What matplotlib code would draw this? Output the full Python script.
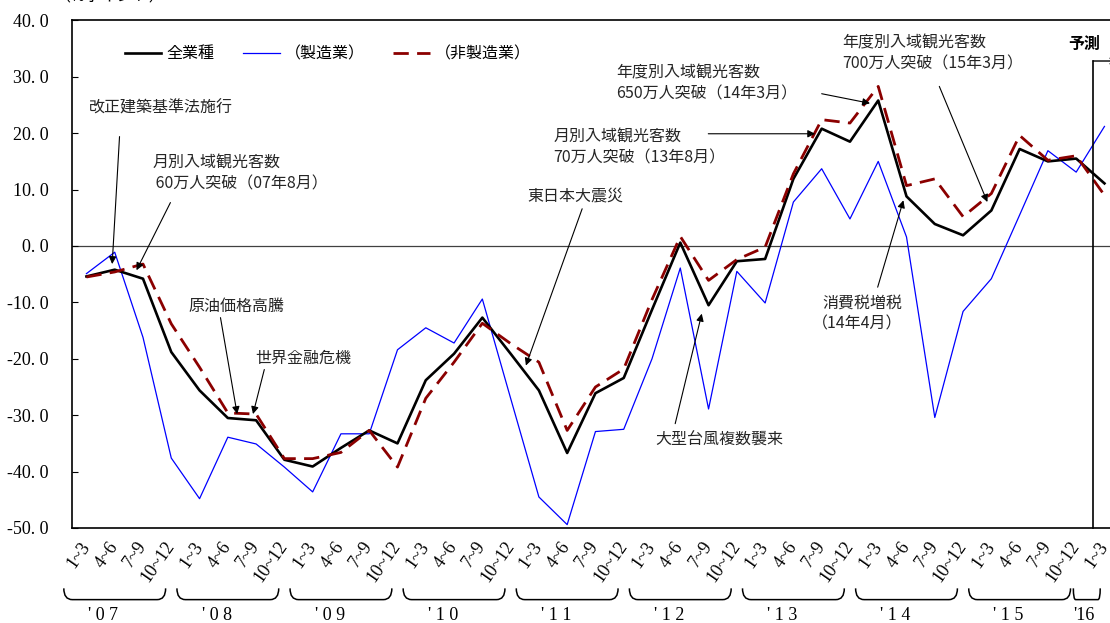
import numpy as np
import matplotlib
matplotlib.use('Agg')
import matplotlib.pyplot as plt
from matplotlib.path import Path
from matplotlib.patches import PathPatch

plt.rcParams['font.family'] = ['Noto Sans CJK JP', 'DejaVu Sans']

# quarterly BSI, '07 1~3 .. '16 1~3
quarters = ['1~3', '4~6', '7~9', '10~12'] * 9 + ['1~3']
years = ["' 0 7", "' 0 8", "' 0 9", "' 1 0", "' 1 1", "' 1 2", "' 1 3", "' 1 4", "' 1 5", "'16"]

all_ind = [-5.4, -4.2, -5.8, -18.8, -25.6, -30.5, -30.9, -37.9, -39.1, -35.8,
           -32.7, -35.0, -23.8, -19.1, -12.7, -19.1, -25.6, -36.7, -26.1, -23.4,
           -11.3, 0.6, -10.5, -2.7, -2.3, 11.9, 20.8, 18.5, 25.8, 8.8,
           3.9, 1.9, 6.3, 17.2, 15.0, 15.5, 11.1]
mfg = [-4.9, -1.1, -16.2, -37.6, -44.8, -33.9, -35.1, -39.2, -43.6, -33.3,
       -33.3, -18.4, -14.5, -17.2, -9.4, -27.0, -44.5, -49.4, -32.9, -32.5,
       -20.0, -3.9, -28.9, -4.5, -10.1, 7.8, 13.7, 4.8, 15.0, 1.6,
       -30.4, -11.6, -5.8, 5.5, 16.9, 13.1, 21.2]
nonmfg = [-5.5, -4.6, -3.2, -13.8, -21.5, -29.6, -29.8, -37.7, -37.7, -36.6,
          -32.7, -39.2, -27.0, -20.6, -13.7, -17.3, -20.6, -32.7, -25.0, -21.8,
          -9.5, 1.7, -6.1, -2.4, -0.2, 12.8, 22.4, 21.8, 28.3, 10.7,
          11.9, 5.2, 9.3, 19.6, 15.2, 16.0, 9.0]

# (text, text pos, ha, arrow tail, arrow head)
notes = [
    ('改正建築基準法施行', (0.07, 24.5), 'left', (1.17, 19.4), (0.91, -3.2)),
    ('月別入域観光客数\n 60万人突破（07年8月）', (2.33, 12.8), 'left', (2.97, 7.7), (1.77, -4.3)),
    ('原油価格高騰', (3.61, -10.7), 'left', (4.74, -12.7), (5.33, -29.8)),
    ('世界金融危機', (5.97, -19.9), 'left', (6.29, -21.9), (5.89, -29.8)),
    ('東日本大震災', (15.59, 8.9), 'left', (17.53, 6.6), (15.54, -21.2)),
    ('大型台風複数襲来', (20.11, -34.5), 'left', (20.82, -31.5), (21.76, -12.0)),
    ('月別入域観光客数\n70万人突破（13年8月）', (16.51, 17.5), 'left', (21.99, 19.9), (25.77, 19.9)),
    ('年度別入域観光客数\n650万人突破（14年3月）', (18.73, 28.8), 'left', (26.0, 27.0), (27.71, 25.3)),
    ('年度別入域観光客数\n700万人突破（15年3月）', (26.72, 34.1), 'left', (30.16, 28.3), (31.86, 7.8)),
    ('消費税増税\n（14年4月）', (28.84, -12.0), 'right', (27.98, -7.3), (28.89, 8.1)),
]

fig = plt.figure(figsize=(11.1, 6.23), dpi=100)
ax = fig.add_axes([72.3 / 1110, 95 / 623, 1046.3 / 1110, 507.6 / 623])

x = np.arange(len(all_ind))
l_mfg, = ax.plot(x, mfg, color='#0000ff', lw=0.9)
l_all, = ax.plot(x, all_ind, color='black', lw=1.9)
l_non, = ax.plot(x, nonmfg, color='#8b0000', lw=2.0, dashes=(5.5, 3))
ax.axhline(0, color='#404040', lw=0.9, zorder=1)

ax.set_xlim(-0.5, 36.5)
ax.set_ylim(-50, 40)
yt = np.arange(-50, 41, 10)
ax.set_yticks(yt)
ax.set_yticklabels([f'{v:.1f}'.replace('.', '. ') for v in yt],
                   fontfamily='Liberation Serif', fontsize=13)
ax.tick_params(axis='y', direction='in', length=4, width=0.8, pad=17)
ax.set_xticks(x)
ax.set_xticklabels(quarters, rotation=55, ha='right', va='center',
                   rotation_mode='anchor', fontfamily='Liberation Serif', fontsize=13)
ax.tick_params(axis='x', length=0, pad=11)
for s in ax.spines.values():
    s.set_linewidth(1.2)

leg = ax.legend([l_all, l_mfg, l_non], ['全業種', '（製造業）', '（非製造業）'],
                loc='center left', bbox_to_anchor=(0.05, 0.934), ncol=3,
                frameon=False, fontsize=11.5, handlelength=2.3,
                handletextpad=0.3, columnspacing=1.8, borderaxespad=0, borderpad=0)

for txt, pos, ha, tail, head in notes:
    ax.text(pos[0], pos[1], txt, ha=ha, va='center', multialignment=ha,
            fontsize=11.5, color='#262626', linespacing=1.3)
    ax.annotate('', xy=head, xytext=tail,
                arrowprops=dict(arrowstyle='-|>', color='black', lw=0.8,
                                mutation_scale=11, shrinkA=0, shrinkB=0))

# forecast marker
ax.plot([35.6, 35.6], [-50, 32.8], color='black', lw=1.2, clip_on=False)
ax.annotate('', xy=(36.45, 32.8), xytext=(35.6, 32.8), annotation_clip=False,
            arrowprops=dict(arrowstyle='->', color='black', lw=1.0, shrinkA=0, shrinkB=0))
ax.text(35.3, 35.9, '予測', ha='center', va='center', fontsize=11.5, fontweight='bold')


def brace(x0, x1, top=-60.7, bot=-62.7, r=0.3):
    verts = [(x0, top), (x0, bot), (x0 + r, bot), (x1 - r, bot), (x1, bot), (x1, top)]
    codes = [Path.MOVETO, Path.CURVE3, Path.CURVE3, Path.LINETO, Path.CURVE3, Path.CURVE3]
    ax.add_patch(PathPatch(Path(verts, codes), fill=False, lw=1.1,
                           edgecolor='black', clip_on=False))


for k, yl in enumerate(years):
    if k < 9:
        brace(4 * k - 0.8, 4 * k + 2.8)
        ax.text(4 * k + 0.6, -65.5, yl, ha='center', va='center',
                fontfamily='Liberation Serif', fontsize=13)
    else:
        brace(34.9, 35.85, r=0.08)
        ax.text(35.28, -65.5, yl, ha='center', va='center',
                fontfamily='Liberation Serif', fontsize=13)

fig.text(110 / 1110, 1 - 5 / 623, '（%ポイント）', ha='center', va='bottom', fontsize=11.5)

fig.savefig('out.png', dpi=100)
